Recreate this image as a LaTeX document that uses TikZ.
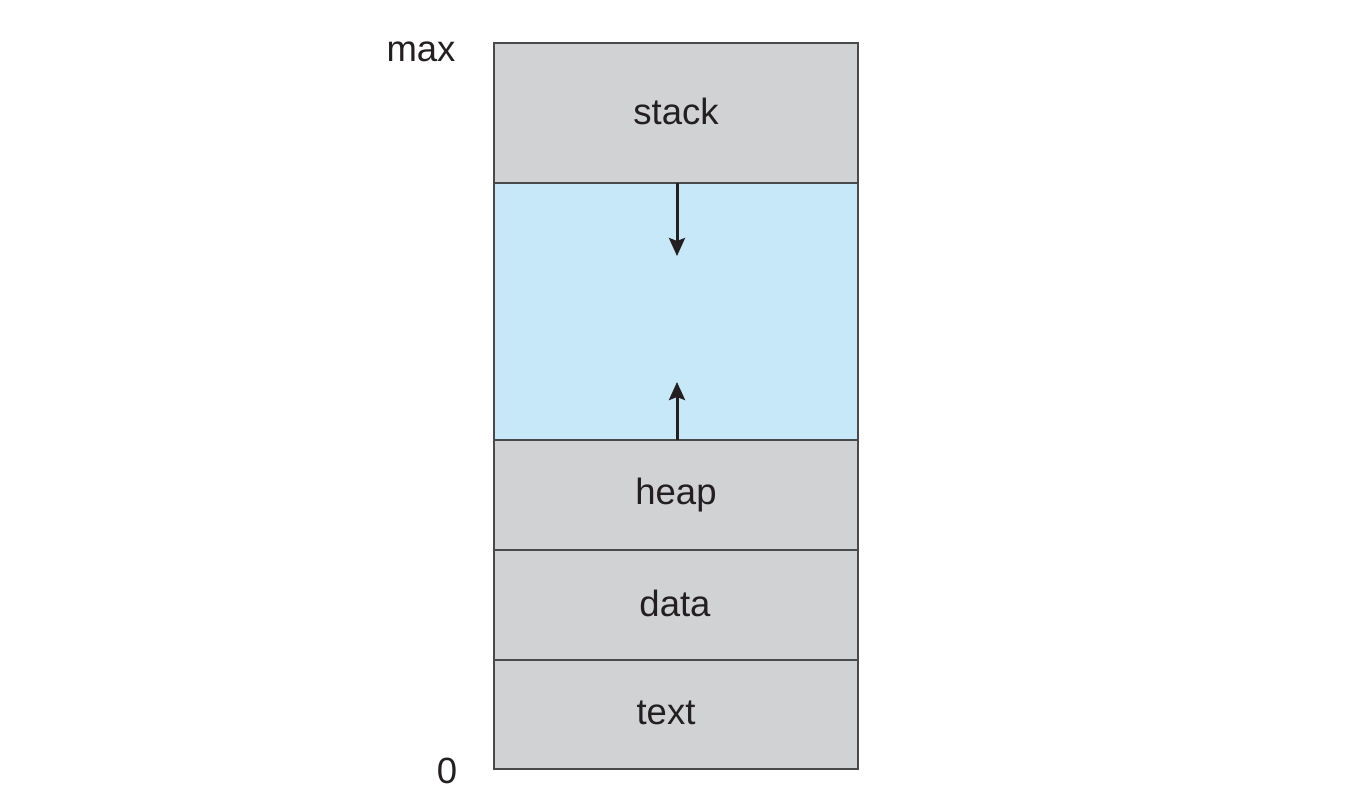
\documentclass[tikz,border=0pt]{standalone}
\usepackage{fontspec}
\setmainfont{Liberation Sans}
\usetikzlibrary{arrows.meta}
\definecolor{segGray}{HTML}{D1D2D4}
\definecolor{segBlue}{HTML}{C7E8F8}
\definecolor{lineGray}{HTML}{4A4A4A}
\definecolor{txt}{HTML}{231F20}
\tikzset{
  seg/.style={draw=lineGray, line width=2pt, fill=segGray, minimum width=364pt, inner sep=0pt, outer sep=0pt, font=\fontsize{36.5}{40}\selectfont, text=txt},
  seglabel/.style={font=\fontsize{36.5}{40}\selectfont, text=txt, inner sep=0pt},
  growarrow/.style={draw=txt, line width=3pt, -{Stealth[length=18pt,width=16pt,inset=3pt]}},
  sidelabel/.style={font=\fontsize{36.5}{40}\selectfont, text=txt, inner sep=0pt}
}
\begin{document}
\begin{tikzpicture}[x=1pt,y=-1pt]
\useasboundingbox (0,0) rectangle (1358,798);
\node[seg, minimum height=140pt] (stack) at (676,113) {};
\node[seg, fill=segBlue, minimum height=257pt] (free) at (676,311.5) {};
\node[seg, minimum height=110pt] (heap) at (676,495) {};
\node[seg, minimum height=110pt] (data) at (676,605) {};
\node[seg, minimum height=109pt] (text) at (676,714.5) {};
\node[seglabel] (stacklbl) at (676,111) {stack};
\node[seglabel] (heaplbl) at (676,495) {heap};
\node[seglabel] (datalbl) at (675,603) {data};
\node[seglabel] (textlbl) at (666,713) {text};
\node[sidelabel] (max) at (421,52) {max};
\node[sidelabel] (zero) at (447,771) {0};
\coordinate (dtip) at (677,256);
\coordinate (utip) at (677,382);
\draw[growarrow] (stack.south -| dtip) -- (dtip);
\draw[growarrow] (heap.north -| utip) -- (utip);
\end{tikzpicture}
\end{document}
